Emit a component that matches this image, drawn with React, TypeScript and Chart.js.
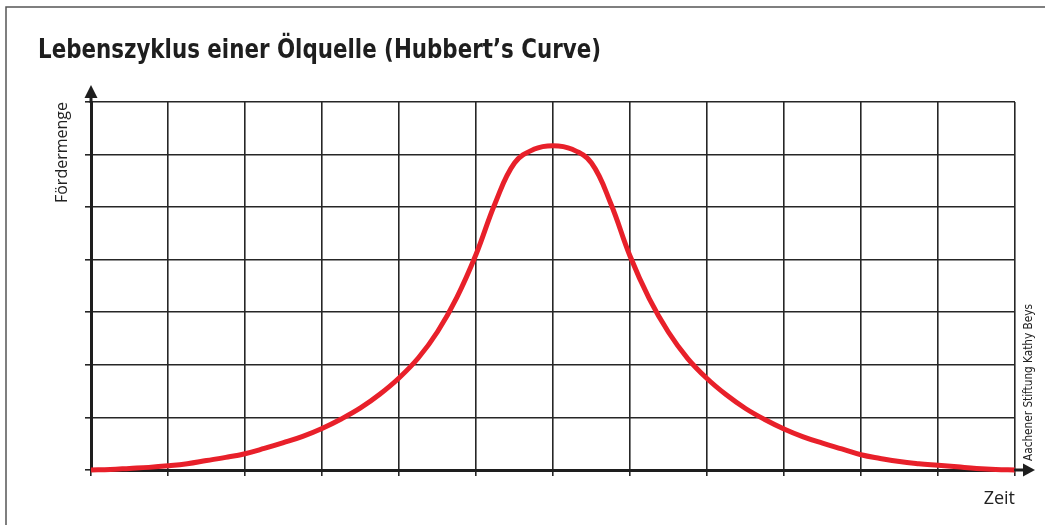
import React, { useEffect, useRef } from "react";
import { Chart, registerables } from "chart.js";

Chart.register(...registerables);

// ---- data ----
const chartTitle = "Lebenszyklus einer Ölquelle (Hubbert’s Curve)";
const yAxisLabel = "Fördermenge";
const xAxisLabel = "Zeit";
const creditText = "Aachener Stiftung Kathy Beys";

// time in grid columns (0..12), production in grid rows (0..7)
const timeSteps = [
  0, 0.25, 0.5, 0.75, 1, 1.25, 1.5, 1.75, 2, 2.25, 2.5, 2.75, 3, 3.25, 3.5,
  3.75, 4, 4.25, 4.5, 4.75, 5, 5.25, 5.5, 5.75, 6, 6.25, 6.5, 6.75, 7, 7.25,
  7.5, 7.75, 8, 8.25, 8.5, 8.75, 9, 9.25, 9.5, 9.75, 10, 10.25, 10.5, 10.75,
  11, 11.25, 11.5, 11.75, 12,
];
const production = [
  0.0, 0.01, 0.03, 0.05, 0.08, 0.12, 0.18, 0.24, 0.31, 0.41, 0.52, 0.64, 0.79,
  0.97, 1.18, 1.44, 1.75, 2.13, 2.63, 3.28, 4.1, 5.08, 5.84, 6.1, 6.17, 6.1,
  5.84, 5.07, 4.07, 3.26, 2.62, 2.12, 1.74, 1.43, 1.17, 0.96, 0.78, 0.63, 0.51,
  0.4, 0.29, 0.22, 0.16, 0.12, 0.09, 0.06, 0.03, 0.01, 0.0,
];
const xRange = [0, 12];
const yRange = [0, 7];

const INK = "#1e1e1e";
const GRID = "#262626";
const RED = "#e8202a";
const NARROW = "'Liberation Sans Narrow', 'DejaVu Sans Condensed', 'Open Sans', sans-serif";
const SANS = "'Open Sans', 'Noto Sans', sans-serif";

function drawFitted(ctx: any, text: string, font: string, targetWidth: number) {
  ctx.font = font;
  const w = ctx.measureText(text).width;
  const s = w > 0 ? targetWidth / w : 1;
  ctx.scale(s, 1);
  ctx.fillText(text, 0, 0);
}

const decorPlugin = {
  id: "decor",
  beforeDraw(chart: any) {
    const ctx = chart.ctx;
    ctx.save();
    ctx.strokeStyle = "#555";
    ctx.lineWidth = 1.5;
    ctx.beginPath();
    ctx.moveTo(6, chart.height);
    ctx.lineTo(6, 7);
    ctx.lineTo(chart.width, 7);
    ctx.stroke();
    ctx.restore();
  },
  afterDraw(chart: any) {
    const { ctx, chartArea } = chart;
    const { left, right, top, bottom } = chartArea;
    ctx.save();
    ctx.fillStyle = INK;
    ctx.strokeStyle = INK;
    ctx.lineWidth = 3;
    // y axis extension + arrow
    ctx.beginPath();
    ctx.moveTo(left, top + 1);
    ctx.lineTo(left, top - 5);
    ctx.stroke();
    ctx.beginPath();
    ctx.moveTo(left, top - 17);
    ctx.lineTo(left - 6.5, top - 4);
    ctx.lineTo(left + 6.5, top - 4);
    ctx.closePath();
    ctx.fill();
    // x axis extension + arrow
    ctx.beginPath();
    ctx.moveTo(right - 1, bottom);
    ctx.lineTo(right + 10, bottom);
    ctx.stroke();
    ctx.beginPath();
    ctx.moveTo(right + 20, bottom);
    ctx.lineTo(right + 8, bottom - 6.5);
    ctx.lineTo(right + 8, bottom + 6.5);
    ctx.closePath();
    ctx.fill();
    ctx.restore();

    // title (condensed bold)
    ctx.save();
    ctx.fillStyle = INK;
    ctx.textAlign = "left";
    ctx.textBaseline = "alphabetic";
    ctx.translate(38, 58);
    drawFitted(ctx, chartTitle, `bold 27px ${NARROW}`, 563);
    ctx.restore();

    // credit (rotated, condensed)
    ctx.save();
    ctx.fillStyle = "#222";
    ctx.textAlign = "left";
    ctx.textBaseline = "middle";
    ctx.translate(right + 14, bottom - 9);
    ctx.rotate(-Math.PI / 2);
    drawFitted(ctx, creditText, `13px ${NARROW}`, 157);
    ctx.restore();
  },
};

export default function App() {
  const ref = useRef<HTMLCanvasElement | null>(null);

  useEffect(() => {
    if (!ref.current) return;
    const points = timeSteps.map((t, i) => ({ x: t, y: production[i] }));
    const chart = new Chart(ref.current, {
      type: "line",
      data: {
        datasets: [
          {
            data: points,
            borderColor: RED,
            borderWidth: 5,
            pointRadius: 0,
            tension: 0.4,
            fill: false,
            clip: false as any,
          },
        ],
      },
      options: {
        animation: false,
        responsive: true,
        maintainAspectRatio: false,
        layout: { padding: { left: 37, right: 30, top: 102, bottom: 0 } },
        plugins: {
          legend: { display: false },
          tooltip: { enabled: false },
          title: { display: false },
        },
        scales: {
          x: {
            type: "linear",
            min: xRange[0],
            max: xRange[1],
            ticks: { stepSize: 1, display: false },
            grid: { color: GRID, lineWidth: 1.6, tickLength: 6, drawTicks: true },
            border: { display: true, color: INK, width: 3 },
            title: {
              display: true,
              text: xAxisLabel,
              align: "end",
              color: "#222",
              font: { family: SANS, size: 18 },
              padding: { top: 0, bottom: 15 },
            },
            afterFit(scale: any) {
              scale.height = 55;
            },
          },
          y: {
            type: "linear",
            min: yRange[0],
            max: yRange[1],
            ticks: { stepSize: 1, display: false },
            grid: { color: GRID, lineWidth: 1.6, tickLength: 6, drawTicks: true },
            border: { display: true, color: INK, width: 3 },
            title: {
              display: true,
              text: yAxisLabel,
              align: "end",
              color: "#222",
              font: { family: SANS, size: 16 },
              padding: { top: 16, bottom: 0 },
            },
            afterFit(scale: any) {
              scale.width = 54;
            },
          },
        },
      },
      plugins: [decorPlugin],
    });
    return () => chart.destroy();
  }, []);

  return (
    <div style={{ position: "absolute", left: 0, top: 0, width: 1045, height: 525, background: "#fff" }}>
      <canvas ref={ref} />
    </div>
  );
}
